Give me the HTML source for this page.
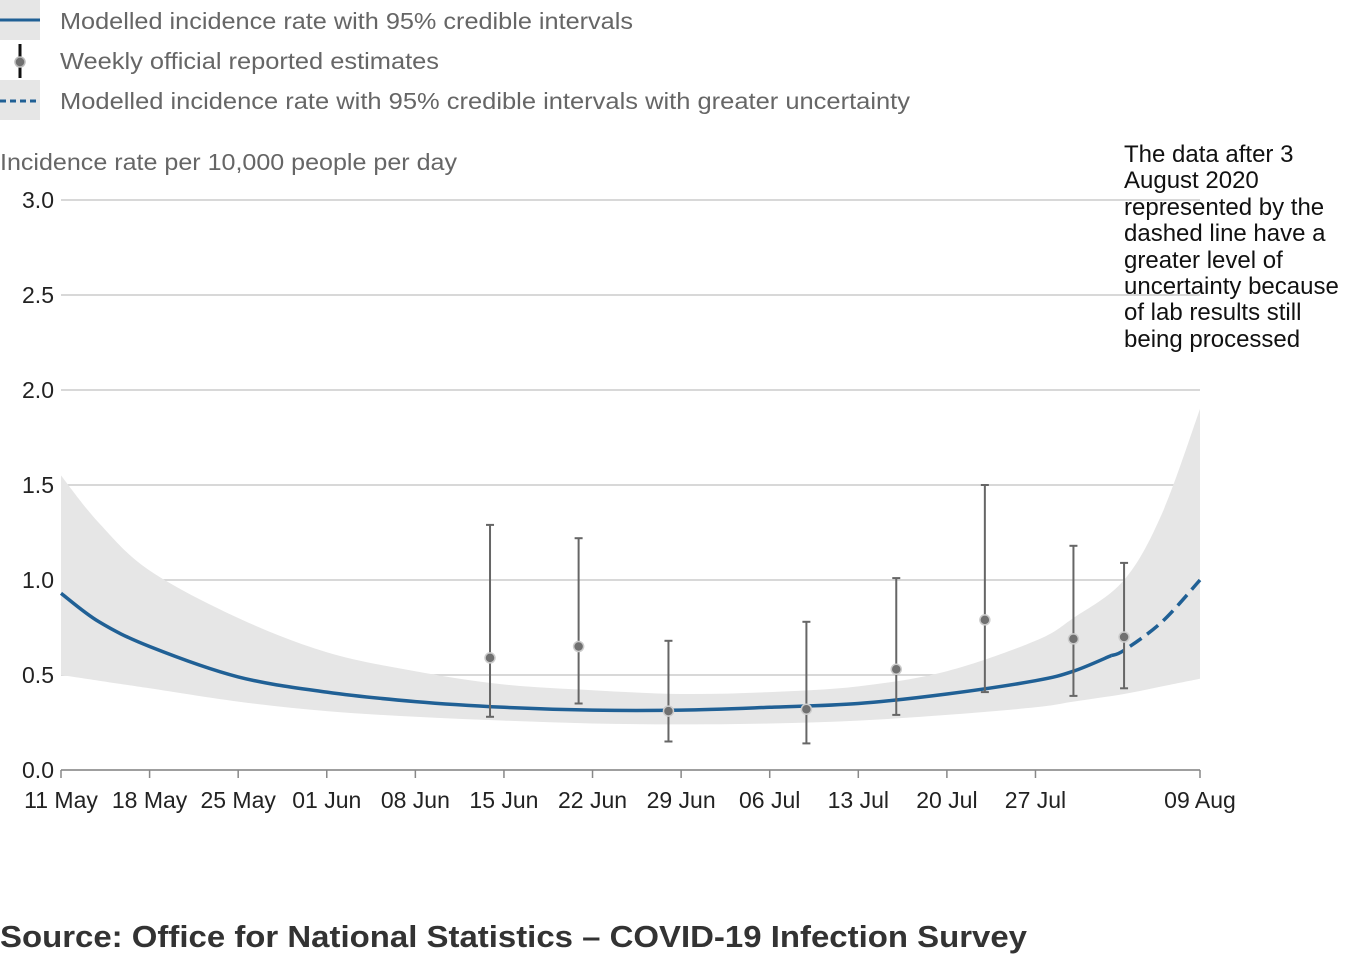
<!DOCTYPE html>
<html><head><meta charset="utf-8"><style>
body{margin:0;background:#fff;font-family:"Liberation Sans",sans-serif;}
svg{display:block}
</style></head><body>
<svg id="chart" width="1350" height="955">
<g font-size="23" fill="#666">
 <g><rect x="0" y="0" width="40" height="40" fill="#e6e6e6"/><line x1="0" y1="20" x2="40" y2="20" stroke="#206095" stroke-width="3"/><text x="60" y="29" textLength="573" lengthAdjust="spacingAndGlyphs">Modelled incidence rate with 95% credible intervals</text></g>
 <g><line x1="20" y1="44" x2="20" y2="78" stroke="#111" stroke-width="3"/><circle cx="20" cy="62" r="5" fill="#707070" stroke="#bbb" stroke-width="1.5"/><text x="60" y="69" textLength="379" lengthAdjust="spacingAndGlyphs">Weekly official reported estimates</text></g>
 <g><rect x="0" y="80" width="40" height="40" fill="#e6e6e6"/><line x1="0" y1="101" x2="40" y2="101" stroke="#206095" stroke-width="3" stroke-dasharray="6,4"/><text x="60" y="109" textLength="850" lengthAdjust="spacingAndGlyphs">Modelled incidence rate with 95% credible intervals with greater uncertainty</text></g>
</g>
<text x="0" y="170" font-size="23" fill="#666" textLength="457" lengthAdjust="spacingAndGlyphs">Incidence rate per 10,000 people per day</text>
<g id="grid"></g>
<g id="yticks" font-size="23" fill="#222"></g>
<path id="band" fill="#e6e6e6"/>
<path id="line" fill="none" stroke="#206095" stroke-width="3.5"/>
<path id="dline" fill="none" stroke="#206095" stroke-width="3.5" stroke-dasharray="14,7"/>
<g id="points"></g>
<g id="xaxis" font-size="23" fill="#222"></g>
<text font-size="24" fill="#111">
<tspan x="1124" y="162">The data after 3</tspan><tspan x="1124" y="188">August 2020</tspan><tspan x="1124" y="215">represented by the</tspan><tspan x="1124" y="241">dashed line have a</tspan><tspan x="1124" y="268">greater level of</tspan><tspan x="1124" y="294">uncertainty because</tspan><tspan x="1124" y="320">of lab results still</tspan><tspan x="1124" y="347">being processed</tspan></text>
<text x="0" y="947" font-size="31" font-weight="bold" fill="#333" textLength="1027" lengthAdjust="spacingAndGlyphs">Source: Office for National Statistics – COVID-19 Infection Survey</text>
</svg>
<script>
const curveDays=[0,3,7,14,21,28,35,42,49,56,63,70,77,80,84,87,90];
const curveMid=[0.93,0.78,0.65,0.49,0.41,0.36,0.33,0.315,0.315,0.33,0.35,0.40,0.47,0.52,0.63,0.78,1.0];
const curveLow=[0.5,0.47,0.43,0.36,0.31,0.28,0.26,0.245,0.24,0.245,0.26,0.29,0.33,0.36,0.40,0.44,0.48];
const curveHigh=[1.55,1.3,1.05,0.8,0.62,0.52,0.45,0.42,0.40,0.41,0.44,0.52,0.68,0.80,1.0,1.35,1.9];
const dashStartDay=83;
const pointDays=[33.9,40.9,48,58.9,66,73,80,84];
const pointVals=[0.59,0.65,0.31,0.32,0.53,0.79,0.69,0.70];
const pointLow=[0.28,0.35,0.15,0.14,0.29,0.41,0.39,0.43];
const pointHigh=[1.29,1.22,0.68,0.78,1.01,1.50,1.18,1.09];
const xTickDays=[0,7,14,21,28,35,42,49,56,63,70,77,90];
const xTickLabels=["11 May","18 May","25 May","01 Jun","08 Jun","15 Jun","22 Jun","29 Jun","06 Jul","13 Jul","20 Jul","27 Jul","09 Aug"];
const yTicks=[0,0.5,1.0,1.5,2.0,2.5,3.0];
const NS="http://www.w3.org/2000/svg";
const X=d=>61+d*(1200-61)/90, Y=v=>770-v*190;
function mk(t,a,p){const e=document.createElementNS(NS,t);for(const k in a)e.setAttribute(k,a[k]);p.appendChild(e);return e;}
function smooth(xs,ys){let d=`M${X(xs[0])},${Y(ys[0])}`;for(let i=0;i<xs.length-1;i++){const p0=[X(xs[Math.max(i-1,0)]),Y(ys[Math.max(i-1,0)])],p1=[X(xs[i]),Y(ys[i])],p2=[X(xs[i+1]),Y(ys[i+1])],p3=[X(xs[Math.min(i+2,xs.length-1)]),Y(ys[Math.min(i+2,xs.length-1)])];d+=`C${p1[0]+(p2[0]-p0[0])/6},${p1[1]+(p2[1]-p0[1])/6} ${p2[0]-(p3[0]-p1[0])/6},${p2[1]-(p3[1]-p1[1])/6} ${p2[0]},${p2[1]}`;}return d;}
function interp(xs,ys,d){for(let i=0;i<xs.length-1;i++)if(d<=xs[i+1]){const t=(d-xs[i])/(xs[i+1]-xs[i]);return ys[i]+t*(ys[i+1]-ys[i]);}return ys[ys.length-1];}
const grid=document.getElementById('grid'),yt=document.getElementById('yticks');
yTicks.forEach(v=>{
 const l=mk('line',{x1:61,x2:1200,y1:Y(v),y2:Y(v),stroke:'#ccc','stroke-width':1.5},grid);
 
 const t=mk('text',{x:54,y:Y(v)+8,'text-anchor':'end'},yt);t.textContent=v.toFixed(1);
 
});
const hi=smooth(curveDays,curveHigh);
const rd=[...curveDays].reverse(),rl=[...curveLow].reverse();
document.getElementById('band').setAttribute('d',hi+smooth(rd,rl).replace('M','L')+'Z');
const sd=[],sm=[],dd=[],dm=[];
curveDays.forEach((d,i)=>{if(d<dashStartDay){sd.push(d);sm.push(curveMid[i]);}else{dd.push(d);dm.push(curveMid[i]);}});
const mv=interp(curveDays,curveMid,dashStartDay);
sd.push(dashStartDay);sm.push(mv);dd.unshift(dashStartDay);dm.unshift(mv);
document.getElementById('line').setAttribute('d',smooth(sd,sm));
document.getElementById('dline').setAttribute('d',smooth(dd,dm));
const pg=document.getElementById('points');
pointDays.forEach((d,i)=>{
 const g=mk('g',{},pg);
 
 
 const x=X(d);
 mk('line',{x1:x,x2:x,y1:Y(pointLow[i]),y2:Y(pointHigh[i]),stroke:'#666','stroke-width':2},g);
 mk('line',{x1:x-4,x2:x+4,y1:Y(pointLow[i]),y2:Y(pointLow[i]),stroke:'#666','stroke-width':2},g);
 mk('line',{x1:x-4,x2:x+4,y1:Y(pointHigh[i]),y2:Y(pointHigh[i]),stroke:'#666','stroke-width':2},g);
 mk('circle',{cx:x,cy:Y(pointVals[i]),r:5,fill:'#707070',stroke:'#ccc','stroke-width':1.5},g);
});
const xa=document.getElementById('xaxis');
mk('line',{x1:61,x2:1200,y1:770,y2:770,stroke:'#888','stroke-width':1.5},xa);
xTickDays.forEach((d,i)=>{
 mk('line',{x1:X(d),x2:X(d),y1:770,y2:778,stroke:'#888','stroke-width':1.5},xa);
 const t=mk('text',{x:X(d),y:808,'text-anchor':'middle'},xa);t.textContent=xTickLabels[i];
 
 
});
</script>
</body></html>
